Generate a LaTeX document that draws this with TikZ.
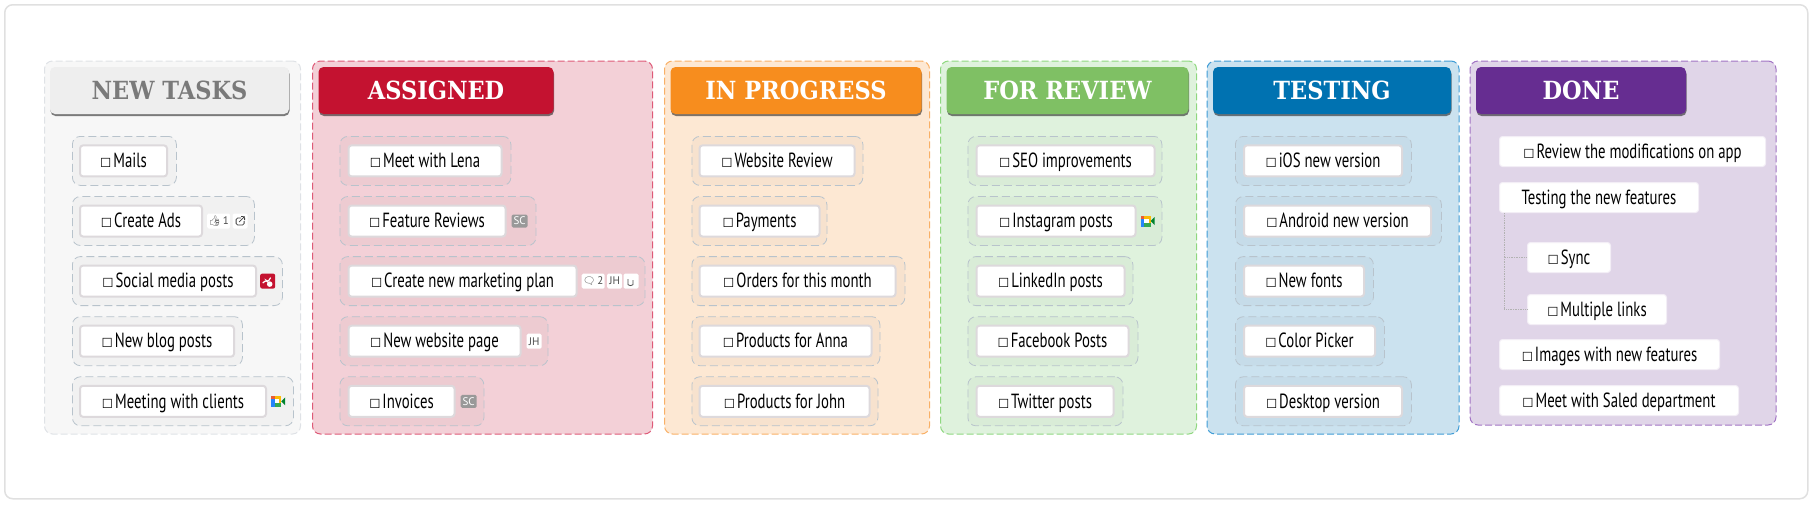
\documentclass[tikz,border=0pt]{standalone}
\usepackage{fontspec}
\usepackage{tikz}
\usetikzlibrary{positioning, shadows}
\setmainfont[FakeStretch=0.72]{PT Sans}
\newfontfamily\chipfont{PT Sans}
\newfontfamily\headfont[FakeStretch=0.9]{DejaVu Serif}
\newfontfamily\boxfont{DejaVu Sans}
\newfontfamily\emojifont{Noto Emoji}
\newcommand{\chk}{{\boxfont\fontsize{12.5}{13}\selectfont ☐}\hspace{2pt}}
\definecolor{newfill}{HTML}{F7F7F7}
\definecolor{newline}{HTML}{DFE2E6}
\definecolor{newhead}{HTML}{EEEEEE}
\definecolor{assignfill}{HTML}{F3D0D7}
\definecolor{assignline}{HTML}{DE5A78}
\definecolor{assignhead}{HTML}{C41230}
\definecolor{progressfill}{HTML}{FDE8D3}
\definecolor{progressline}{HTML}{F9B066}
\definecolor{progresshead}{HTML}{F78D1E}
\definecolor{reviewfill}{HTML}{DFF2DD}
\definecolor{reviewline}{HTML}{8FD880}
\definecolor{reviewhead}{HTML}{7FC064}
\definecolor{testfill}{HTML}{CBE2EF}
\definecolor{testline}{HTML}{3F9CD6}
\definecolor{testhead}{HTML}{0072B1}
\definecolor{donefill}{HTML}{E0D5E8}
\definecolor{doneline}{HTML}{A274C4}
\definecolor{donehead}{HTML}{662D91}
\definecolor{rowline}{HTML}{B8C3CC}
\definecolor{taskline}{HTML}{DDD9DC}
\definecolor{meetred}{HTML}{EA5A35}
\definecolor{meetyellow}{HTML}{FBBC04}
\definecolor{meetblue}{HTML}{2684FC}
\definecolor{meetgreen}{HTML}{34A853}
\definecolor{meetdark}{HTML}{00832D}

\begin{document}
\begin{tikzpicture}[x=1pt, y=-1pt, node distance=10pt, auto]
    \tikzstyle{panel} = [rectangle, rounded corners=8pt, anchor=north west, minimum height=373pt, line width=1pt, dash pattern=on 7pt off 3pt]
    \tikzstyle{header} = [rectangle, rounded corners=5pt, minimum height=47pt, outer sep=0pt, text=white, font=\headfont\bfseries\fontsize{25}{25}\selectfont, drop shadow={shadow xshift=0.5pt, shadow yshift=-2pt, fill=black, opacity=0.5}]
    \tikzstyle{rowbox} = [rectangle, rounded corners=8pt, minimum height=49pt, draw=rowline, fill=black, fill opacity=0.025, line width=0.8pt, dash pattern=on 8pt off 4pt]
    \tikzstyle{taskbox} = [rectangle, rounded corners=3pt, minimum height=31pt, inner ysep=0pt, text height=17.5pt, text depth=4pt, draw=taskline, fill=white, line width=2pt, font=\fontsize{20.5}{21}\selectfont]
    \tikzstyle{donebox} = [taskbox, draw=white!60!donefill, line width=1pt, minimum height=30pt]
    \tikzstyle{chip} = [rectangle, rounded corners=1.5pt, minimum height=15pt, minimum width=15pt, inner sep=0pt, fill=white, text=black!70, font=\chipfont\fontsize{11}{11}\selectfont]
    \tikzstyle{sctag} = [chip, fill=black!40, text=white, minimum width=16pt, minimum height=13pt]
    \tikzstyle{extchip} = [chip, path picture={\begin{scope}[shift={(path picture bounding box.center)}]
        \draw [black!75, line width=0.8pt] (1,-3) -- (-4,-3) -- (-4,4) -- (4,4) -- (4,0);
        \draw [black!75, line width=0.8pt] (-1,1) -- (4.5,-4.5) (1,-4.5) -- (4.5,-4.5) -- (4.5,-1);
    \end{scope}}]
    \tikzstyle{clipchip} = [chip, path picture={\begin{scope}[shift={(path picture bounding box.center)}]
        \draw [black!70, line width=0.8pt] (-3,-2) -- (-3,2) arc [start angle=180, end angle=360, radius=2.5pt] -- (2,-1);
    \end{scope}}]
    \tikzstyle{meeticon} = [minimum width=14pt, minimum height=11pt, inner sep=0pt, path picture={\begin{scope}[shift={(path picture bounding box.center)}]
        \fill [meetred] (-7,-5.5) rectangle (-3.5,-2);
        \fill [meetyellow] (-3.5,-5.5) rectangle (3,-2);
        \fill [meetblue] (-7,-2) rectangle (-3.5,5.5);
        \fill [meetgreen] (-3.5,2) rectangle (3,5.5);
        \fill [meetyellow] (1,-2) rectangle (3,2);
        \fill [white] (-3.5,-2) rectangle (1,2);
        \fill [meetdark] (3,0) -- (7,-4) -- (7,4) -- cycle;
    \end{scope}}]
    \tikzstyle{redicon} = [rectangle, rounded corners=2pt, minimum size=15pt, inner sep=0pt, fill=assignhead, path picture={\begin{scope}[shift={(path picture bounding box.center)}]
        \draw [white, line width=1.2pt] (-5,2) -- (-1.5,-1) -- (0,1) -- (3,-3.5);
        \fill [white] (2,3) circle [radius=2.8pt];
    \end{scope}}]
    \tikzstyle{treeline} = [densely dotted, black!30, line width=0.7pt]

    \useasboundingbox (0,0) rectangle (1813,504);
    \node (frame) [rectangle, anchor=north west, rounded corners=8pt, draw=black!12, line width=1.5pt, minimum width=1803pt, minimum height=494pt] at (4,4) {};

    \node (panelnew) [panel, draw=newline, fill=newfill, minimum width=256pt] at (44,60.5) {};
    \node (headnew) [header, fill=newhead, text=black!52, minimum width=239pt, below right=6.5pt and 6pt of panelnew.north west] {NEW TASKS};
    \node (rowmails) [rowbox, minimum width=104pt, below right=22pt and 22pt of headnew.south west] {};
    \node (mails) [taskbox, minimum width=87pt, right=7pt of rowmails.west] {\chk Mails};
    \node (rowads) [rowbox, minimum width=182pt, below=10.3pt of rowmails.south west, anchor=north west] {};
    \node (ads) [taskbox, minimum width=122pt, right=7pt of rowads.west] {\chk Create Ads};
    \node (adslike) [chip, minimum width=23pt, right=4pt of ads] {{\emojifont\fontsize{10}{10}\selectfont 👍}\,1};
    \node (adsext) [extchip, right=2pt of adslike] {};
    \node (rowsocial) [rowbox, minimum width=210pt, below=10.3pt of rowads.south west, anchor=north west] {};
    \node (social) [taskbox, minimum width=176pt, right=7pt of rowsocial.west] {\chk Social media posts};
    \node (socialicon) [redicon, right=3pt of social] {};
    \node (rowblog) [rowbox, minimum width=170pt, below=10.3pt of rowsocial.south west, anchor=north west] {};
    \node (blog) [taskbox, minimum width=154pt, right=7pt of rowblog.west] {\chk New blog posts};
    \node (rowmeeting) [rowbox, minimum width=221pt, below=10.3pt of rowblog.south west, anchor=north west] {};
    \node (meeting) [taskbox, minimum width=186pt, right=7pt of rowmeeting.west] {\chk Meeting with clients};
    \node (meetingicon) [meeticon, right=4pt of meeting] {};

    \node (panelassign) [panel, draw=assignline, fill=assignfill, minimum width=340pt] at (312,60.5) {};
    \node (headassign) [header, fill=assignhead, minimum width=235pt, below right=6.5pt and 6.5pt of panelassign.north west] {ASSIGNED};
    \node (rowlena) [rowbox, minimum width=171pt, below right=22pt and 21pt of headassign.south west] {};
    \node (lena) [taskbox, minimum width=153pt, right=8pt of rowlena.west] {\chk Meet with Lena};
    \node (rowfeature) [rowbox, minimum width=196pt, below=10.3pt of rowlena.south west, anchor=north west] {};
    \node (feature) [taskbox, minimum width=157pt, right=8pt of rowfeature.west] {\chk Feature Reviews};
    \node (featuresc) [sctag, right=5pt of feature] {SC};
    \node (rowplan) [rowbox, minimum width=305pt, below=10.3pt of rowfeature.south west, anchor=north west] {};
    \node (plan) [taskbox, minimum width=228pt, right=8pt of rowplan.west] {\chk Create new marketing plan};
    \node (plantalk) [chip, minimum width=23pt, right=4pt of plan] {{\emojifont\fontsize{10}{10}\selectfont 🗨}\,2};
    \node (planjh) [chip, right=2pt of plantalk] {JH};
    \node (planclip) [clipchip, right=1pt of planjh] {};
    \node (rowpage) [rowbox, minimum width=208pt, below=10.3pt of rowplan.south west, anchor=north west] {};
    \node (page) [taskbox, minimum width=172pt, right=8pt of rowpage.west] {\chk New website page};
    \node (pagejh) [chip, right=5pt of page] {JH};
    \node (rowinvoices) [rowbox, minimum width=144pt, below=10.3pt of rowpage.south west, anchor=north west] {};
    \node (invoices) [taskbox, minimum width=106pt, right=8pt of rowinvoices.west] {\chk Invoices};
    \node (invoicessc) [sctag, right=5pt of invoices] {SC};

    \node (panelprogress) [panel, draw=progressline, fill=progressfill, minimum width=265pt] at (664,60.5) {};
    \node (headprogress) [header, fill=progresshead, minimum width=251pt, below right=6.5pt and 6.5pt of panelprogress.north west] {IN PROGRESS};
    \node (rowwebsite) [rowbox, minimum width=171pt, below right=22pt and 21pt of headprogress.south west] {};
    \node (website) [taskbox, minimum width=155pt, right=7pt of rowwebsite.west] {\chk Website Review};
    \node (rowpayments) [rowbox, minimum width=135pt, below=10.3pt of rowwebsite.south west, anchor=north west] {};
    \node (payments) [taskbox, minimum width=120pt, right=7pt of rowpayments.west] {\chk Payments};
    \node (roworders) [rowbox, minimum width=213pt, below=10.3pt of rowpayments.south west, anchor=north west] {};
    \node (orders) [taskbox, minimum width=196pt, right=7pt of roworders.west] {\chk Orders for this month};
    \node (rowanna) [rowbox, minimum width=188pt, below=10.3pt of roworders.south west, anchor=north west] {};
    \node (anna) [taskbox, minimum width=172pt, right=7pt of rowanna.west] {\chk Products for Anna};
    \node (rowjohn) [rowbox, minimum width=186pt, below=10.3pt of rowanna.south west, anchor=north west] {};
    \node (john) [taskbox, minimum width=170pt, right=7pt of rowjohn.west] {\chk Products for John};

    \node (panelreview) [panel, draw=reviewline, fill=reviewfill, minimum width=256pt] at (940,60.5) {};
    \node (headreview) [header, fill=reviewhead, minimum width=242pt, below right=6.5pt and 6.5pt of panelreview.north west] {FOR REVIEW};
    \node (rowseo) [rowbox, minimum width=194pt, below right=22pt and 21pt of headreview.south west] {};
    \node (seo) [taskbox, minimum width=178pt, right=8pt of rowseo.west] {\chk SEO improvements};
    \node (rowinsta) [rowbox, minimum width=194pt, below=10.3pt of rowseo.south west, anchor=north west] {};
    \node (insta) [taskbox, minimum width=159pt, right=8pt of rowinsta.west] {\chk Instagram posts};
    \node (instaicon) [meeticon, right=4pt of insta] {};
    \node (rowlinkedin) [rowbox, minimum width=165pt, below=10.3pt of rowinsta.south west, anchor=north west] {};
    \node (linkedin) [taskbox, minimum width=148pt, right=8pt of rowlinkedin.west] {\chk LinkedIn posts};
    \node (rowfacebook) [rowbox, minimum width=170pt, below=10.3pt of rowlinkedin.south west, anchor=north west] {};
    \node (facebook) [taskbox, minimum width=152pt, right=8pt of rowfacebook.west] {\chk Facebook Posts};
    \node (rowtwitter) [rowbox, minimum width=155pt, below=10.3pt of rowfacebook.south west, anchor=north west] {};
    \node (twitter) [taskbox, minimum width=137pt, right=8pt of rowtwitter.west] {\chk Twitter posts};

    \node (paneltest) [panel, draw=testline, fill=testfill, minimum width=252pt] at (1206.5,60.5) {};
    \node (headtest) [header, fill=testhead, minimum width=238pt, below right=6.5pt and 6.5pt of paneltest.north west] {TESTING};
    \node (rowios) [rowbox, minimum width=176pt, below right=22pt and 22pt of headtest.south west] {};
    \node (ios) [taskbox, minimum width=158pt, right=8pt of rowios.west] {\chk iOS new version};
    \node (rowandroid) [rowbox, minimum width=206pt, below=10.3pt of rowios.south west, anchor=north west] {};
    \node (android) [taskbox, minimum width=187pt, right=8pt of rowandroid.west] {\chk Android new version};
    \node (rowfonts) [rowbox, minimum width=138pt, below=10.3pt of rowandroid.south west, anchor=north west] {};
    \node (fonts) [taskbox, minimum width=120pt, right=8pt of rowfonts.west] {\chk New fonts};
    \node (rowpicker) [rowbox, minimum width=149pt, below=10.3pt of rowfonts.south west, anchor=north west] {};
    \node (picker) [taskbox, minimum width=131pt, right=8pt of rowpicker.west] {\chk Color Picker};
    \node (rowdesktop) [rowbox, minimum width=176pt, below=10.3pt of rowpicker.south west, anchor=north west] {};
    \node (desktop) [taskbox, minimum width=158pt, right=8pt of rowdesktop.west] {\chk Desktop version};

    \node (paneldone) [panel, draw=doneline, fill=donefill, minimum width=306pt, minimum height=364pt] at (1469.5,60.5) {};
    \node (headdone) [header, fill=donehead, minimum width=210pt, below right=6.5pt and 6.5pt of paneldone.north west] {DONE};
    \node (modif) [donebox, minimum width=266pt, below right=22pt and 23pt of headdone.south west] {\chk Review the modifications on app};
    \node (testing) [donebox, minimum width=199pt, below=15pt of modif.south west, anchor=north west] {Testing the new features};
    \node (sync) [donebox, minimum width=83pt, below right=29pt and 28pt of testing.south west] {\chk Sync};
    \node (links) [donebox, minimum width=139pt, below=21pt of sync.south west, anchor=north west] {\chk Multiple links};
    \node (images) [donebox, minimum width=220pt, below=14pt of links.south west, xshift=-28pt, anchor=north west] {\chk Images with new features};
    \node (saled) [donebox, minimum width=239pt, below=15pt of images.south west, anchor=north west] {\chk Meet with Saled department};

    \draw [treeline] ([xshift=5pt]testing.south west) |- (sync.west);
    \draw [treeline] ([xshift=5pt]testing.south west) |- (links.west);
\end{tikzpicture}
\end{document}
